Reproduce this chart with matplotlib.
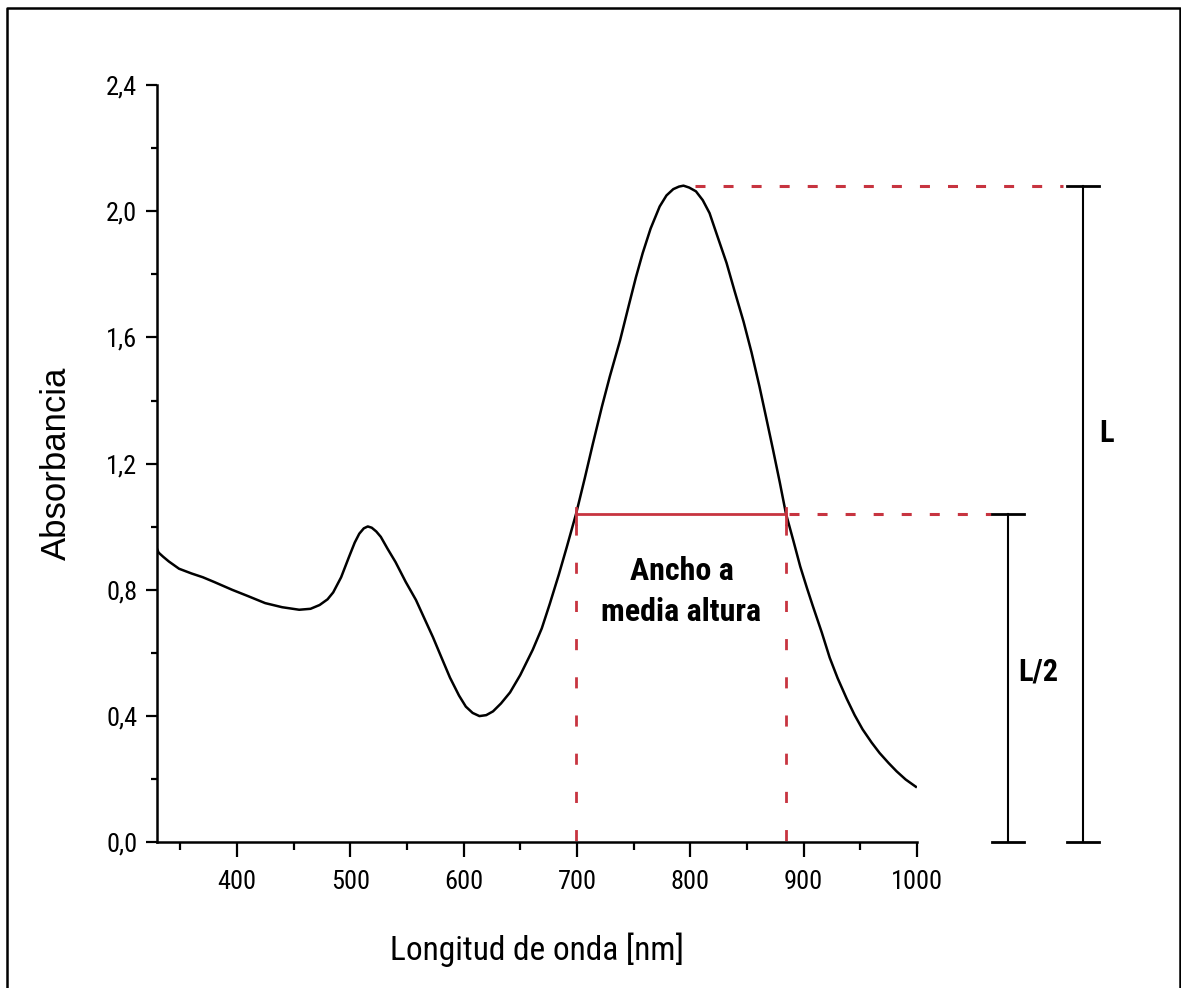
import matplotlib
matplotlib.use("Agg")
import matplotlib.pyplot as plt
from matplotlib import font_manager
from matplotlib.lines import Line2D
from matplotlib.ticker import MultipleLocator, FuncFormatter

plt.rcParams['lines.scale_dashes'] = False

# espectro
longitud = [329, 331, 335, 340, 349, 360, 370, 380, 396, 410, 425, 440, 455, 465,
            473, 480, 485, 492, 499, 504, 508, 512, 515.5, 519, 523, 527, 533, 540,
            549, 558, 566, 573, 580, 588, 596, 602, 608, 614, 620, 626, 633, 641,
            650, 661, 669, 676, 684, 691, 699.4, 707, 714, 722, 729, 738, 746, 752,
            758, 765, 773, 779, 785, 790, 794, 799, 805, 811, 817, 824, 832, 839,
            847, 854, 861, 867, 873, 879, 884.3, 891, 897, 903, 908, 916, 923, 930,
            938, 945, 952, 960, 967, 975, 982, 990, 999]
absorbancia = [0.935, 0.918, 0.905, 0.89, 0.867, 0.852, 0.84, 0.825, 0.80, 0.78, 0.758,
               0.745, 0.737, 0.74, 0.752, 0.77, 0.792, 0.84, 0.905, 0.95, 0.978, 0.995,
               1.001, 0.997, 0.985, 0.968, 0.93, 0.888, 0.825, 0.768, 0.705, 0.65, 0.59,
               0.522, 0.465, 0.43, 0.41, 0.40, 0.403, 0.415, 0.44, 0.475, 0.53, 0.61,
               0.678, 0.755, 0.848, 0.935, 1.043, 1.155, 1.262, 1.38, 1.476, 1.59, 1.705,
               1.79, 1.867, 1.945, 2.015, 2.05, 2.07, 2.078, 2.081, 2.075, 2.063, 2.035,
               1.994, 1.92, 1.836, 1.748, 1.65, 1.553, 1.445, 1.345, 1.244, 1.14, 1.043,
               0.955, 0.874, 0.805, 0.75, 0.665, 0.585, 0.52, 0.455, 0.403, 0.358, 0.316,
               0.283, 0.251, 0.225, 0.199, 0.176]

pico_x = 799          # donde empieza la linea del maximo
L = 2.08              # altura del pico
media = L / 2
fwhm_izq = 699.4
fwhm_der = 884.3
barra_L2_x = 1080
barra_L_x = 1146.5

rojo = '#c73440'

# Arial Narrow no esta, se busca algo parecido
disponibles = {f.name for f in font_manager.fontManager.ttflist}
narrow = 'Liberation Sans'
for cand in ['Liberation Sans Narrow', 'Roboto Condensed', 'Open Sans Condensed']:
    if cand in disponibles:
        narrow = cand
        break
narrow = [narrow, 'DejaVu Sans']
arial = ['Liberation Sans', 'DejaVu Sans']

fig = plt.figure(figsize=(11.81, 9.88), dpi=100)
W, H = 1181, 988
ax = fig.add_axes([156.7 / W, 145.7 / H, (917 - 156.7) / W, (903 - 145.7) / H])

ax.plot(longitud, absorbancia, color='black', lw=1.8)

ax.set_xlim(329.3, 1000)
ax.set_ylim(0, 2.4)
for s in ['top', 'right']:
    ax.spines[s].set_visible(False)
for s in ['left', 'bottom']:
    ax.spines[s].set_linewidth(1.8)

ax.xaxis.set_major_locator(MultipleLocator(100))
ax.xaxis.set_minor_locator(MultipleLocator(50))
ax.yaxis.set_major_locator(MultipleLocator(0.4))
ax.yaxis.set_minor_locator(MultipleLocator(0.2))
ax.yaxis.set_major_formatter(FuncFormatter(lambda v, p: f"{v:.1f}".replace('.', ',')))
ax.tick_params(axis='x', which='major', length=11, width=1.6, pad=9)
ax.tick_params(axis='x', which='minor', length=6, width=1.6)
ax.tick_params(axis='y', which='major', length=8, width=1.6, pad=6)
ax.tick_params(axis='y', which='minor', length=4, width=1.6)
for lab in ax.get_xticklabels() + ax.get_yticklabels():
    lab.set_family(narrow)
    lab.set_fontsize(19)

ax.set_xlabel('Longitud de onda [nm]', family=narrow, fontsize=24, labelpad=28)
ax.set_ylabel('Absorbancia', family=arial, fontsize=25, labelpad=24)

# ancho a media altura
ax.plot([fwhm_izq, fwhm_der], [media, media], color=rojo, lw=2)
for xv in [fwhm_izq, fwhm_der]:
    ax.plot([xv, xv], [media + 0.02, media - 0.03], color=rojo, lw=2)
    ax.plot([xv, xv], [media - 0.03, 0], color=rojo, lw=2,
            dashes=(8, 19.5), dash_capstyle='butt')

# lineas punteadas horizontales hacia las barras
ax.plot([pico_x + 5, barra_L_x - 18], [L, L], color=rojo, lw=2.2,
        dashes=(7.2, 13), clip_on=False)
ax.plot([fwhm_der + 3, barra_L2_x - 15], [media, media], color=rojo, lw=2.2,
        dashes=(7.2, 13), clip_on=False)

# barras L y L/2
cap = 14
for xb, top in [(barra_L2_x, media), (barra_L_x, L)]:
    ax.plot([xb, xb], [0, top], color='black', lw=1.5, clip_on=False)
    ax.plot([xb - cap, xb + cap], [top, top], color='black', lw=2, clip_on=False)
    ax.plot([xb - cap, xb + cap], [0, 0], color='black', lw=2, clip_on=False)

ax.text(792.2, 0.795, 'Ancho a\nmedia altura', family=narrow, weight='bold',
        fontsize=23, ha='center', va='center', linespacing=1.45)
ax.text(1167.5, 1.298, 'L', family=narrow, weight='bold', fontsize=22,
        ha='center', va='center', clip_on=False)
ax.text(1106.8, 0.541, 'L/2', family=narrow, weight='bold', fontsize=22,
        ha='center', va='center', clip_on=False)

# marco de la imagen
bx0, bx1, by1 = 7 / W, 1180 / W, 1 - 8 / H
fig.add_artist(Line2D([bx0, bx0, bx1, bx1], [-0.01, by1, by1, -0.01],
                      transform=fig.transFigure, color='black', lw=1.8))

fig.savefig('out.png', dpi=100)
